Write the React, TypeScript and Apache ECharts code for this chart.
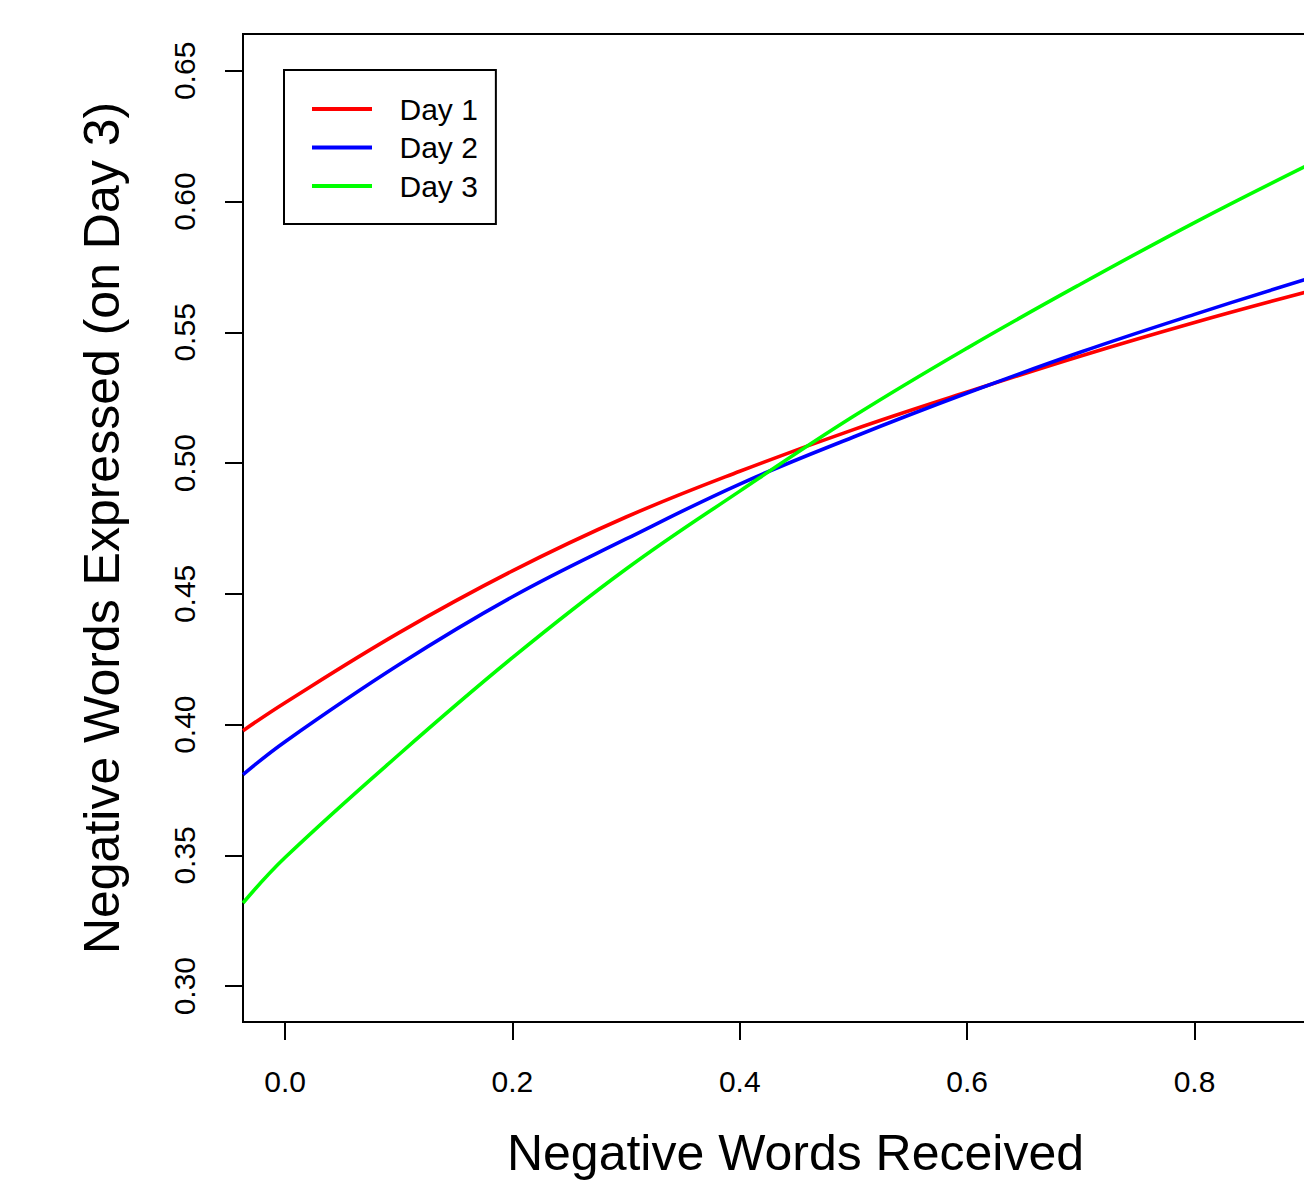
import React, { useEffect, useRef } from "react";
import * as echarts from "echarts";

const xValues = [-0.037, 0, 0.1, 0.2, 0.3, 0.4, 0.5, 0.6, 0.7, 0.8, 0.897];
const day1 = [0.3977, 0.4084, 0.4351, 0.4588, 0.4794, 0.4969, 0.5128, 0.5272, 0.541, 0.5538, 0.5653];
const day2 = [0.3809, 0.3935, 0.4229, 0.4489, 0.471, 0.492, 0.51, 0.5268, 0.5425, 0.5569, 0.5702];
const day3 = [0.3318, 0.3492, 0.3885, 0.4256, 0.4595, 0.4893, 0.5179, 0.544, 0.5685, 0.592, 0.6134];
const xTicks = [0, 0.2, 0.4, 0.6, 0.8];
const yTicks = [0.3, 0.35, 0.4, 0.45, 0.5, 0.55, 0.6, 0.65];
const seriesNames = ["Day 1", "Day 2", "Day 3"];
const seriesColors = ["#ff0000", "#0000ff", "#00ff00"];

const FONT = "'Liberation Sans', Arial, Helvetica, sans-serif";

export default function App() {
  const ref = useRef<HTMLDivElement>(null);
  useEffect(() => {
    if (!ref.current) return;
    const chart = echarts.init(ref.current, undefined, { renderer: "svg" });
    const allData = [day1, day2, day3];
    chart.setOption({
      animation: false,
      backgroundColor: "#ffffff",
      textStyle: { fontFamily: FONT, color: "#000" },
      grid: {
        left: 243,
        right: 12,
        top: 34,
        bottom: 159,
        show: true,
        borderColor: "#000",
        borderWidth: 2,
        backgroundColor: "transparent",
      },
      legend: {
        orient: "vertical",
        left: 284,
        top: 70,
        padding: [24, 18, 23, 28],
        borderColor: "#000",
        borderWidth: 2,
        icon: "rect",
        itemWidth: 60,
        itemHeight: 4,
        itemGap: 8.5,
        data: seriesNames,
        textStyle: {
          fontFamily: FONT,
          fontSize: 30,
          color: "#000",
          padding: [0, 0, 0, 22.5],
          lineHeight: 30,
        },
      },
      xAxis: {
        type: "value",
        min: -0.037,
        max: 0.935,
        name: "Negative Words Received",
        nameLocation: "middle",
        nameGap: 106,
        nameTextStyle: { fontFamily: FONT, fontSize: 50, color: "#000" },
        axisLine: { show: false, onZero: false },
        splitLine: { show: false },
        axisTick: {
          show: true,
          customValues: xTicks,
          length: 18,
          lineStyle: { color: "#000", width: 2 },
        },
        axisLabel: {
          customValues: xTicks,
          formatter: (v: number) => v.toFixed(1),
          fontFamily: FONT,
          fontSize: 30,
          color: "#000",
          margin: 44,
        },
      },
      yAxis: {
        type: "value",
        min: 0.2863,
        max: 0.6641,
        name: "Negative Words Expressed (on Day 3)",
        nameLocation: "middle",
        nameGap: 116,
        nameRotate: 90,
        nameTextStyle: { fontFamily: FONT, fontSize: 50, color: "#000" },
        axisLine: { show: false, onZero: false },
        splitLine: { show: false },
        axisTick: {
          show: true,
          customValues: yTicks,
          length: 18,
          lineStyle: { color: "#000", width: 2 },
        },
        axisLabel: {
          customValues: yTicks,
          formatter: (v: number) => v.toFixed(2),
          fontFamily: FONT,
          fontSize: 30,
          color: "#000",
          rotate: 90,
          margin: 44,
        },
      },
      series: seriesNames.map((name, i) => ({
        name,
        type: "line",
        smooth: 0.4,
        symbol: "none",
        clip: true,
        data: xValues.map((x, j) => [x, allData[i][j]]),
        lineStyle: { color: seriesColors[i], width: 3.6 },
        itemStyle: { color: seriesColors[i] },
      })),
    });
    return () => chart.dispose();
  }, []);
  return (
    <div
      style={{
        position: "absolute",
        left: 0,
        top: 0,
        width: 1304,
        height: 1183,
        overflow: "hidden",
        background: "#fff",
      }}
    >
      <div ref={ref} style={{ width: 1360, height: 1183 }} />
    </div>
  );
}
